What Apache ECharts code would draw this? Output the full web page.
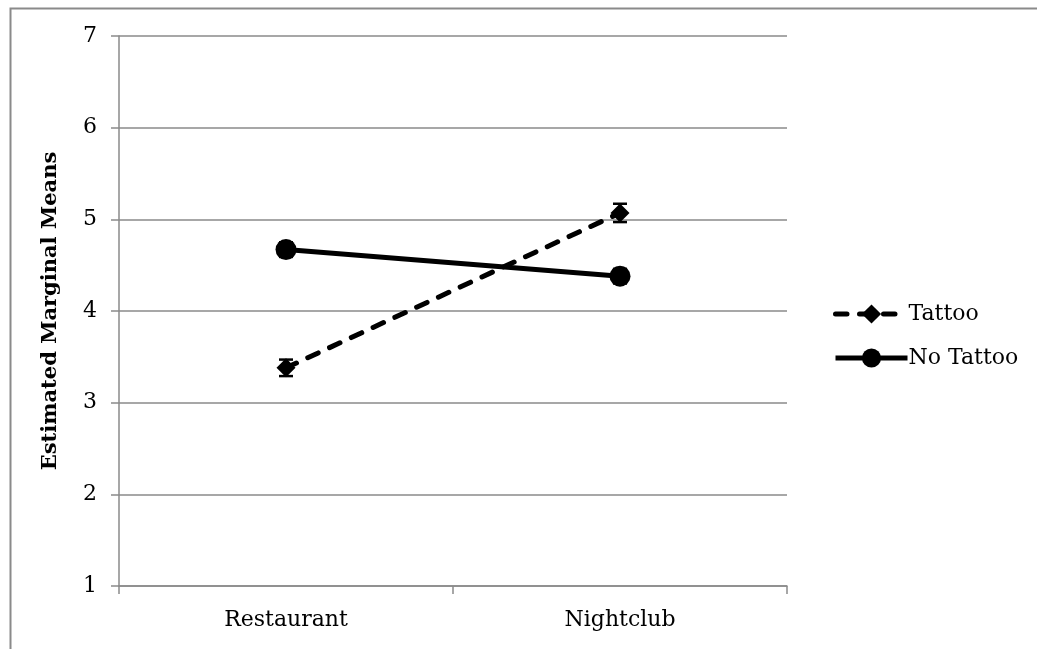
<!DOCTYPE html>
<html>
<head>
<meta charset="utf-8">
<script src="https://cdn.jsdelivr.net/npm/echarts@6/dist/echarts.min.js"></script>
<style>html,body{margin:0;padding:0;background:#fff}#c{width:1037px;height:649px}</style>
</head>
<body>
<div id="c"></div>
<script>
var categories = ['Restaurant', 'Nightclub'];
var tattoo = [3.38, 5.07];
var tattooErr = [0.09, 0.10];
var noTattoo = [4.67, 4.38];
var noTattooErr = [0.08, 0.08];
var yTicks = [1, 2, 3, 4, 5, 6, 7];

var FONT = 'DejaVu Serif';
var GRAY = '#8a8a8a';

function errData(vals, errs) {
  return vals.map(function (v, i) { return [i, v - errs[i], v + errs[i]]; });
}
function errRender(params, api) {
  var x = api.value(0);
  var lo = api.coord([x, api.value(1)]);
  var hi = api.coord([x, api.value(2)]);
  var w = 7;
  var st = { stroke: '#000', lineWidth: 2.5 };
  return {
    type: 'group',
    children: [
      { type: 'line', shape: { x1: lo[0], y1: lo[1], x2: hi[0], y2: hi[1] }, style: st },
      { type: 'line', shape: { x1: lo[0] - w, y1: lo[1], x2: lo[0] + w, y2: lo[1] }, style: st },
      { type: 'line', shape: { x1: hi[0] - w, y1: hi[1], x2: hi[0] + w, y2: hi[1] }, style: st }
    ]
  };
}

var chart = echarts.init(document.getElementById('c'));
chart.setOption({
  animation: false,
  backgroundColor: '#fff',
  textStyle: { fontFamily: FONT },
  graphic: [{
    type: 'rect', left: 8, top: 6, z: -1,
    shape: { width: 1200, height: 1000 },
    style: { fill: 'none', stroke: GRAY, lineWidth: 2 }
  }],
  grid: { left: 119, right: 250, top: 36, bottom: 63 },
  legend: {
    orient: 'vertical', left: 828, top: 298,
    itemWidth: 72, itemHeight: 24, itemGap: 22,
    data: ['Tattoo', 'No Tattoo'],
    lineStyle: { width: 5 },
    textStyle: { fontFamily: FONT, fontSize: 22, color: '#000', padding: [0, 0, 0, -4] }
  },
  xAxis: {
    type: 'category', data: categories, boundaryGap: true,
    axisLine: { lineStyle: { color: GRAY, width: 1.5 } },
    axisTick: { show: true, length: 8, lineStyle: { color: GRAY, width: 1.5 } },
    axisLabel: { fontFamily: FONT, fontSize: 22, color: '#000', margin: 23 }
  },
  yAxis: {
    type: 'value', min: 1, max: 7, interval: 1,
    name: 'Estimated Marginal Means', nameLocation: 'middle', nameRotate: 90, nameGap: 58,
    nameTextStyle: { fontFamily: FONT, fontSize: 21, fontWeight: 'bold', color: '#000' },
    axisLine: { show: true, lineStyle: { color: GRAY, width: 1.5 } },
    axisTick: { show: true, length: 8, lineStyle: { color: GRAY, width: 1.5 } },
    axisLabel: { fontFamily: FONT, fontSize: 22, color: '#000', margin: 22,
      formatter: function (v) { return yTicks.indexOf(v) >= 0 ? String(v) : ''; } },
    splitLine: { lineStyle: { color: GRAY, width: 1.5 } }
  },
  series: [
    {
      name: 'Tattoo', type: 'line', data: tattoo,
      symbol: 'diamond', symbolSize: 19,
      itemStyle: { color: '#000' },
      lineStyle: { color: '#000', width: 5, type: [11.5, 12.5], cap: 'round' },
      z: 3
    },
    {
      name: 'No Tattoo', type: 'line', data: noTattoo,
      symbol: 'circle', symbolSize: 21,
      itemStyle: { color: '#000' },
      lineStyle: { color: '#000', width: 5 },
      z: 3
    },
    {
      type: 'custom', renderItem: errRender, data: errData(tattoo, tattooErr),
      encode: { x: 0, y: [1, 2] }, z: 4, silent: true
    },
    {
      type: 'custom', renderItem: errRender, data: errData(noTattoo, noTattooErr),
      encode: { x: 0, y: [1, 2] }, z: 2, silent: true
    }
  ]
});
</script>
</body>
</html>
